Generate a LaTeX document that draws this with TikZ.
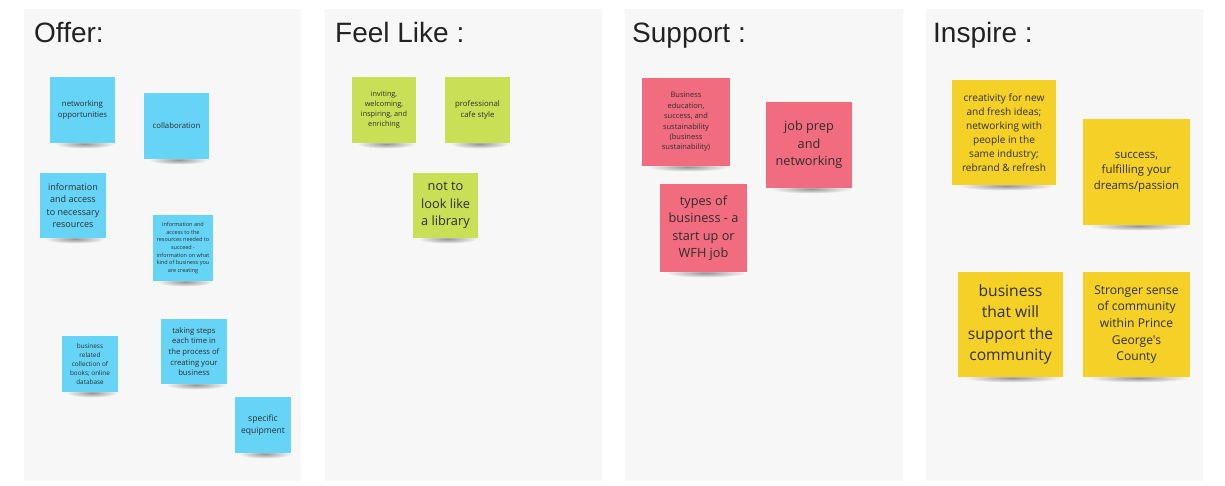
\documentclass[tikz,border=0pt]{standalone}
\usepackage{fontspec}
\setmainfont{Liberation Sans}
\newfontfamily\stickyfont{Open Sans}
\usetikzlibrary{fadings}
\definecolor{panelbg}{HTML}{F7F7F7}
\definecolor{sblue}{HTML}{66D4F7}
\definecolor{sgreen}{HTML}{C9DF56}
\definecolor{spink}{HTML}{F16C7F}
\definecolor{syellow}{HTML}{F5D128}
\definecolor{stext}{HTML}{2E2E2E}
\definecolor{ttext}{HTML}{222222}
\tikzfading[name=shfade, inner color=transparent!35, outer color=transparent!100]
\tikzset{
  panel/.style={fill=panelbg, draw=none},
  title/.style={anchor=base west, font=\fontsize{28}{31}\selectfont, text=ttext, inner sep=0pt},
  sticky/.style={draw=none, inner sep=1pt, align=center, text=stext}
}
\newcommand\sticky[8]{%
  \pgfmathsetmacro\scx{(#2+#4)/2}%
  \pgfmathsetmacro\scy{(#3+#5)/2}%
  \pgfmathsetmacro\srx{(#4-#2)*0.46}%
  \pgfmathsetmacro\sbs{#7*1.38}%
  \fill[black, opacity=0.6, path fading=shfade] (\scx+2, #5+1) ellipse ({\srx} and 4.5);
  \node[sticky, fill=#6, minimum width={#4-#2}, minimum height={#5-#3},
        font=\stickyfont\fontsize{#7}{\sbs}\selectfont] (#1) at (\scx,\scy) {#8};
}
\begin{document}
\begin{tikzpicture}[x=1pt, y=-1pt]
\useasboundingbox (0,0) rectangle (1225,486);
\fill[white] (0,0) rectangle (1225,486);
% panels
\fill[panel] (24,9) rectangle (301,481);
\fill[panel] (325,9) rectangle (602,481);
\fill[panel] (625,9) rectangle (903,481);
\fill[panel] (926,9) rectangle (1203,481);
% titles
\node[title] (tOffer) at (34,43) {Offer:};
\node[title] (tFeel) at (335,43) {Feel Like :};
\node[title] (tSupport) at (632,43) {Support :};
\node[title] (tInspire) at (933,43) {Inspire :};
% Offer
\sticky{o1}{50}{77}{115}{143}{sblue}{7.8}{networking\\opportunities}
\sticky{o2}{144}{93}{209}{159}{sblue}{7.8}{collaboration}
\sticky{o3}{40}{173}{106}{238}{sblue}{9}{information\\and access\\to necessary\\resources}
\sticky{o4}{153}{215}{213}{281}{sblue}{5.5}{information and\\access to the\\resources needed to\\succeed -\\information on what\\kind of business you\\are creating}
\sticky{o5}{62}{336}{118}{392}{sblue}{6.4}{business\\related\\collection of\\books; online\\database}
\sticky{o6}{161}{319}{227}{384}{sblue}{7.7}{taking steps\\each time in\\the process of\\creating your\\business}
\sticky{o7}{235}{397}{291}{453}{sblue}{8.6}{specific\\equipment}
% Feel Like
\sticky{f1}{352}{77}{416}{143}{sgreen}{7.3}{inviting,\\welcoming,\\inspiring, and\\enriching}
\sticky{f2}{445}{77}{510}{143}{sgreen}{7.8}{professional\\cafe style}
\sticky{f3}{413}{173}{478}{238}{sgreen}{12.8}{not to\\look like\\a library}
% Support
\sticky{s1}{642}{78}{730}{166}{spink}{7.5}{Business\\education,\\success, and\\sustainability\\(business\\sustainability)}
\sticky{s2}{766}{102}{852}{188}{spink}{12.7}{job prep\\and\\networking}
\sticky{s3}{660}{184}{747}{272}{spink}{12.7}{types of\\business - a\\start up or\\WFH job}
% Inspire
\sticky{i1}{952}{80}{1056}{185}{syellow}{10.1}{creativity for new\\and fresh ideas;\\networking with\\people in the\\same industry;\\rebrand \& refresh}
\sticky{i2}{1083}{119}{1190}{225}{syellow}{11.4}{success,\\fulfilling your\\dreams/passion}
\sticky{i3}{958}{272}{1063}{377}{syellow}{15.6}{business\\that will\\support the\\community}
\sticky{i4}{1083}{272}{1190}{377}{syellow}{12.1}{Stronger sense\\of community\\within Prince\\George's\\County}
\end{tikzpicture}
\end{document}
